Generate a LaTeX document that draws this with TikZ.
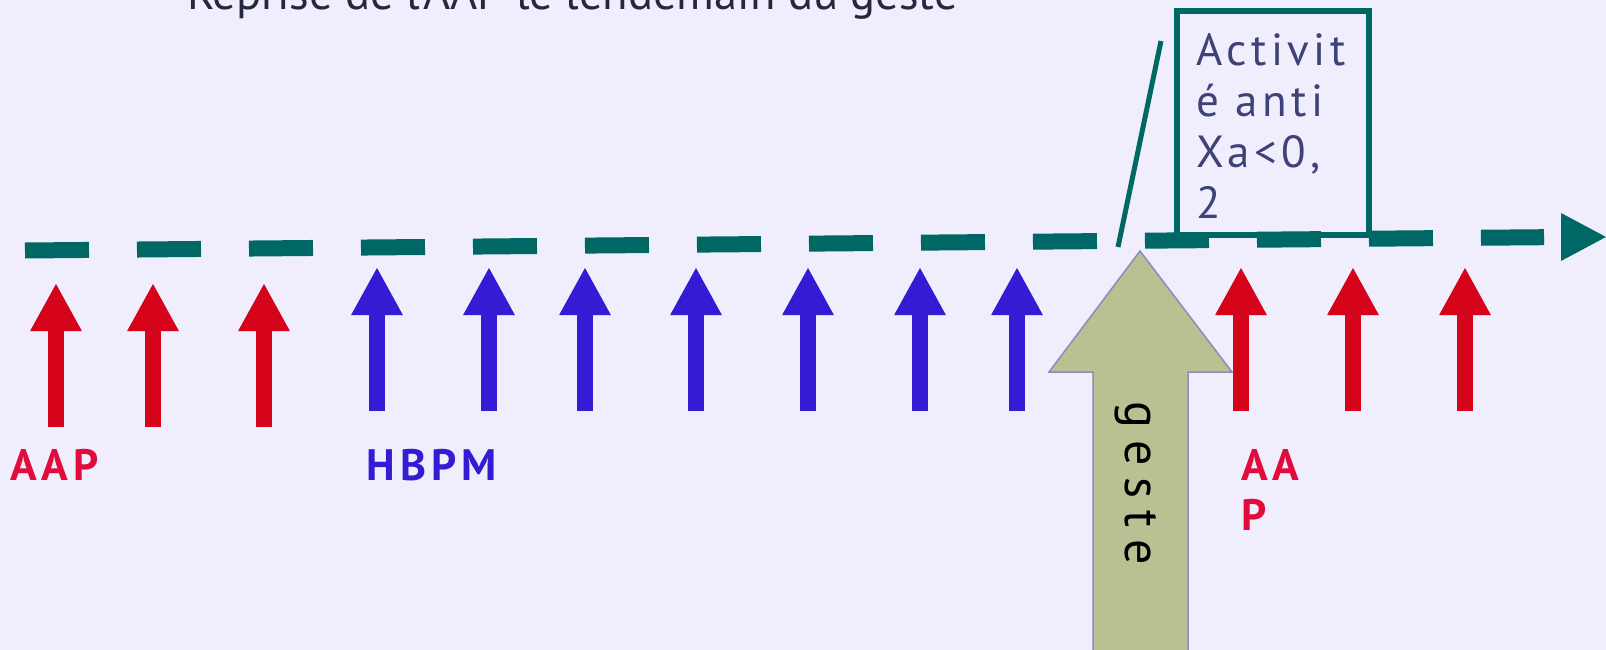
\documentclass[tikz,border=0pt]{standalone}
\usepackage{fontspec}
\setmainfont{PT Sans}
\usetikzlibrary{arrows.meta}

\definecolor{fond}{RGB}{240,238,252}
\definecolor{axecol}{RGB}{0,104,100}
\definecolor{rougefl}{RGB}{214,4,26}
\definecolor{rougetx}{RGB}{226,12,60}
\definecolor{bleufl}{RGB}{52,28,212}
\definecolor{kaki}{RGB}{187,192,147}
\definecolor{bordkaki}{RGB}{138,140,184}
\definecolor{textboite}{RGB}{62,66,120}
\definecolor{titrecol}{RGB}{37,38,63}

\begin{document}
\begin{tikzpicture}[x=1pt,y=-1pt,
  rouge/.style={draw=rougefl,line width=16pt,-{Triangle[length=48pt,width=48pt]}},
  bleu/.style={draw=bleufl,line width=16pt,-{Triangle[length=48pt,width=48pt]}},
  etiq/.style={font=\fontsize{44}{50}\selectfont\bfseries\addfontfeatures{LetterSpace=12},inner sep=0pt,align=left}]
\fill[fond] (0,0) rectangle (1606,650);
\clip (0,0) rectangle (1606,650);
\node[anchor=base west,inner sep=0pt,text=titrecol,font=\fontsize{46.5}{56}\selectfont] (titre) at (187,10) {Reprise de l'AAP le lendemain du geste};
\coordinate (axe debut) at (25,250.5);
\coordinate (axe fin) at (1544,237.2);
\draw[axecol,line width=16pt,dash pattern=on 64pt off 48pt] (axe debut) -- (axe fin);
\fill[axecol] (1561,213) -- (1606,237) -- (1561,261) -- cycle;
\node[draw=axecol,line width=5.7pt,minimum width=192pt,minimum height=224pt,inner sep=0pt] (boite) at (1273,123) {};
\node[anchor=base west,inner sep=0pt,align=left,text=textboite,font=\fontsize{45}{51}\selectfont\addfontfeatures{LetterSpace=10}] (activite) at (1196,218) {Activit\\é anti\\Xa<0,\\2};
\coordinate (trait bas) at (1118,247);
\coordinate (trait haut) at (1161,41);
\draw[axecol,line width=5pt] (trait bas) -- (trait haut);
\foreach \x in {56,153,264}
\draw[rouge] (\x,427) -- (\x,283);
\foreach \x in {377,489,585,696,808,920,1017}
\draw[bleu] (\x,411) -- (\x,267);
\foreach \x in {1241,1353,1465}
\draw[rouge] (\x,411) -- (\x,267);
\draw[fill=kaki,draw=bordkaki,line width=1.5pt] (1093,660) -- (1093,372) -- (1049,372) -- (1140,251) -- (1232,372) -- (1188,372) -- (1188,660) -- cycle;
\node[rotate=-90,inner sep=0pt,font=\fontsize{50}{60}\selectfont\addfontfeatures{LetterSpace=24}] (geste) at (1136,483) {geste};
\node[etiq,text=rougetx,anchor=base west] (aap) at (10,480) {AAP};
\node[etiq,text=bleufl,anchor=base west] (hbpm) at (366,480) {HBPM};
\node[etiq,text=rougetx,anchor=base west] (aap droite) at (1241,530) {AA\\P};
\end{tikzpicture}
\end{document}
